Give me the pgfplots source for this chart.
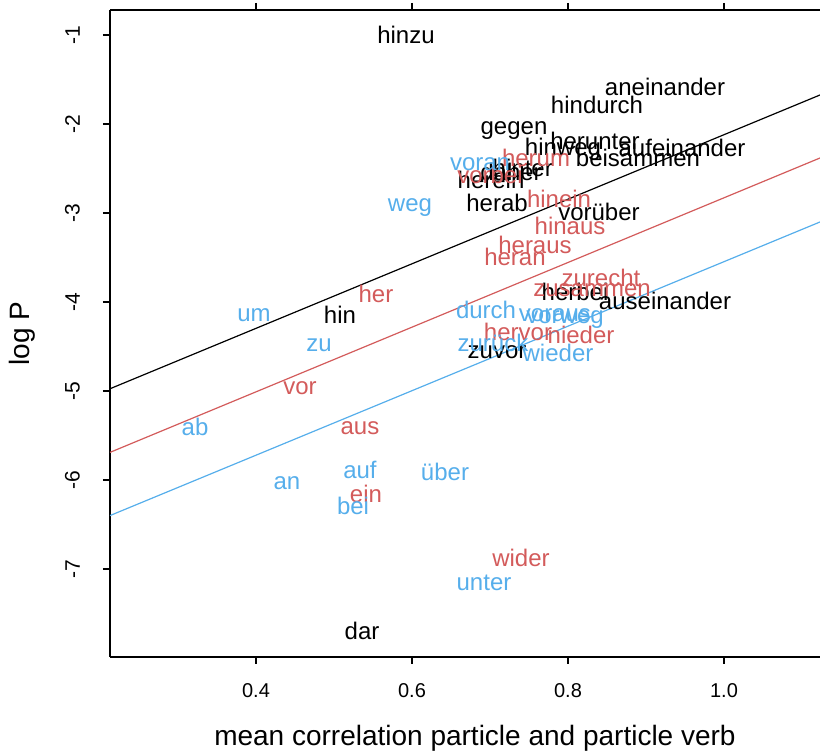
\documentclass[border=0pt]{standalone}
\usepackage{fontspec}
\setmainfont{Liberation Sans}
\usepackage{pgfplots}
\usepackage{pgfplotstable}
\pgfplotsset{compat=1.18}

\definecolor{rred}{HTML}{D35B5B}
\definecolor{rblue}{HTML}{56AEEB}

% black particles
\pgfplotstableread{
x y label
0.5923 -1.000 hinzu
0.9244 -1.584 aneinander
0.8372 -1.787 hindurch
0.7308 -2.079 gegen
0.8346 -2.191 herunter
0.7936 -2.281 hinweg
0.9462 -2.270 aufeinander
0.8897 -2.382 beisammen
0.7420 -2.494 hinter
0.7270 -2.540 daher
0.7013 -2.629 herein
0.7090 -2.888 herab
0.8397 -2.989 vorüber
0.8090 -3.888 herbei
0.9244 -3.989 auseinander
0.5077 -4.146 hin
0.7090 -4.562 zuvor
0.5359 -7.697 dar
}\blackdata

% red particles
\pgfplotstableread{
x y label
0.7590 -2.382 herum
0.7000 -2.573 vorbei
0.7885 -2.843 hinein
0.8026 -3.146 hinaus
0.7577 -3.360 heraus
0.7320 -3.494 heran
0.8423 -3.730 zurecht
0.8308 -3.865 zusammen
0.5538 -3.910 her
0.7359 -4.337 hervor
0.8167 -4.371 nieder
0.4564 -4.966 vor
0.5333 -5.416 aus
0.5410 -6.157 ein
0.7397 -6.876 wider
}\reddata

% blue particles
\pgfplotstableread{
x y label
0.6872 -2.449 voran
0.5974 -2.944 weg
0.3974 -4.146 um
0.6949 -4.090 durch
0.7833 -4.146 voraus
0.7962 -4.202 vorweg
0.4808 -4.483 zu
0.7038 -4.461 zurück
0.7872 -4.573 wieder
0.3218 -5.404 ab
0.5333 -5.888 auf
0.4397 -6.034 an
0.6423 -5.910 über
0.5244 -6.292 bei
0.6923 -7.157 unter
}\bluedata

\begin{document}
\begin{tikzpicture}
\begin{axis}[
    name=ax,
    scale only axis,
    width=355pt, height=323.5pt,
    xmin=0.2128, xmax=1.1231,
    ymin=-7.989, ymax=-0.719,
    separate axis lines,
    axis x line*=box,
    axis y line*=left,
    axis line style={line width=0.6pt},
    tick align=outside,
    major tick length=3.5pt,
    tick style={black, line width=0.6pt},
    xtick={0.4,0.6,0.8,1.0},
    xticklabels={0.4,0.6,0.8,1.0},
    ytick={-7,-6,-5,-4,-3,-2,-1},
    yticklabels={-7,-6,-5,-4,-3,-2,-1},
    x tick label style={font=\fontsize{10}{12}\selectfont, yshift=-6pt},
    y tick label style={font=\fontsize{10.5}{12}\selectfont, rotate=90, anchor=south, yshift=8pt},
    xlabel={mean correlation particle and particle verb},
    ylabel={log P},
    xlabel style={font=\fontsize{14}{16}\selectfont, at={(rel axis cs:0.514,0)}, anchor=center, yshift=-40.5pt},
    ylabel style={font=\fontsize{14}{16}\selectfont, at={(rel axis cs:-0.124,0.5)}, anchor=center},
    every node near coord/.append style={anchor=center, font=\fontsize{12}{14}\selectfont},
]
\addplot[black, line width=0.6pt] coordinates {(0.2128,-4.975) (1.1231,-1.674)};
\addplot[rred, line width=0.6pt] coordinates {(0.2128,-5.690) (1.1231,-2.382)};
\addplot[rblue, line width=0.6pt] coordinates {(0.2128,-6.400) (1.1231,-3.101)};

\addplot[draw=none, mark=none, nodes near coords, point meta=explicit symbolic,
    every node near coord/.append style={text=black}] table[x=x, y=y, meta=label] {\blackdata};
\addplot[draw=none, mark=none, nodes near coords, point meta=explicit symbolic,
    every node near coord/.append style={text=rred}] table[x=x, y=y, meta=label] {\reddata};
\addplot[draw=none, mark=none, nodes near coords, point meta=explicit symbolic,
    every node near coord/.append style={text=rblue}] table[x=x, y=y, meta=label] {\bluedata};
\end{axis}
\pgfresetboundingbox
\path ([xshift=-55pt,yshift=-47.5pt]ax.south west) rectangle ([yshift=5pt]ax.north east);
\end{tikzpicture}
\end{document}
